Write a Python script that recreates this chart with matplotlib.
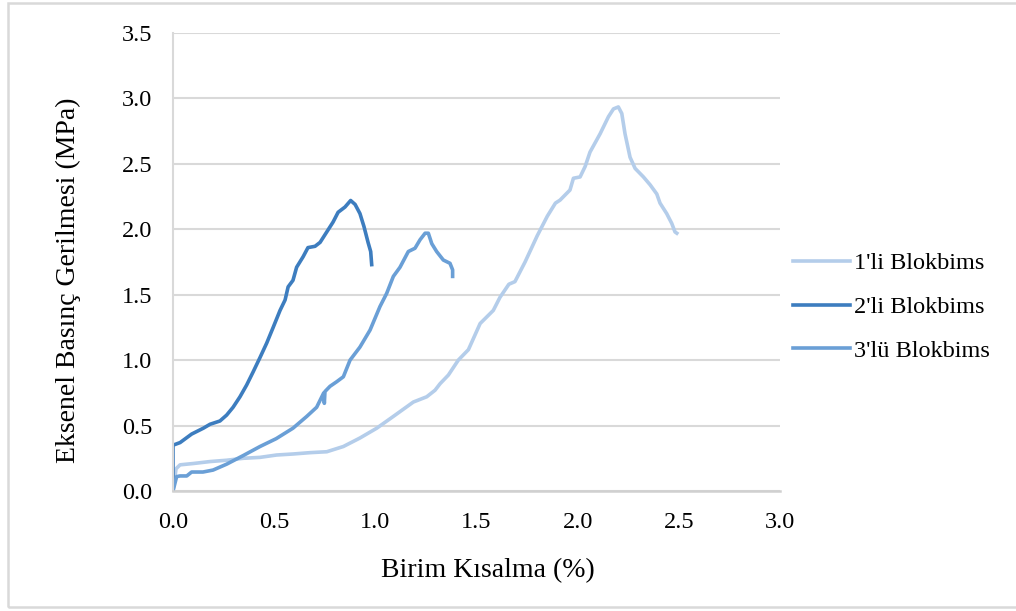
import matplotlib.pyplot as plt
from matplotlib.patches import Rectangle

plt.rcParams['font.family'] = ['Liberation Serif', 'DejaVu Serif']

# 1'li Blokbims
x1 = [0.0, 0.015, 0.035, 0.1, 0.183, 0.265, 0.348, 0.43, 0.512, 0.595, 0.677, 0.76,
      0.842, 0.924, 1.007, 1.089, 1.188, 1.254, 1.295, 1.32, 1.361, 1.41, 1.46, 1.518,
      1.583, 1.616, 1.66, 1.69, 1.74, 1.80, 1.85, 1.89, 1.913, 1.962, 1.979, 2.012,
      2.037, 2.061, 2.111, 2.152, 2.177, 2.201, 2.218, 2.234, 2.259, 2.284, 2.325,
      2.358, 2.391, 2.407, 2.44, 2.465, 2.481, 2.49]
y1 = [0.0, 0.17, 0.2, 0.21, 0.225, 0.235, 0.25, 0.257, 0.275, 0.283, 0.293, 0.30,
      0.34, 0.405, 0.48, 0.57, 0.68, 0.72, 0.77, 0.82, 0.886, 1.0, 1.08, 1.28,
      1.38, 1.48, 1.58, 1.60, 1.75, 1.95, 2.1, 2.2, 2.223, 2.30, 2.39, 2.40,
      2.48, 2.59, 2.73, 2.86, 2.92, 2.935, 2.885, 2.73, 2.55, 2.465, 2.40,
      2.34, 2.27, 2.20, 2.12, 2.045, 1.98, 1.97]

# 2'li Blokbims
x2 = [0.0, 0.0, 0.035, 0.092, 0.15, 0.183, 0.232, 0.265, 0.297, 0.331, 0.364, 0.396,
      0.43, 0.463, 0.495, 0.529, 0.554, 0.569, 0.593, 0.611, 0.643, 0.667, 0.702,
      0.727, 0.76, 0.791, 0.816, 0.85, 0.878, 0.9, 0.924, 0.944, 0.964, 0.977, 0.982]
y2 = [0.0, 0.35, 0.37, 0.435, 0.48, 0.51, 0.535, 0.58, 0.64, 0.72, 0.81, 0.91,
      1.02, 1.13, 1.25, 1.38, 1.46, 1.56, 1.61, 1.71, 1.79, 1.86, 1.87,
      1.90, 1.98, 2.055, 2.13, 2.17, 2.22, 2.19, 2.12, 2.02, 1.90, 1.83, 1.73]

# 3'lü Blokbims
x3 = [0.0, 0.018, 0.035, 0.068, 0.092, 0.148, 0.198, 0.265, 0.346, 0.43, 0.51, 0.593,
      0.661, 0.71, 0.745, 0.748, 0.751, 0.776, 0.809, 0.842, 0.875, 0.924, 0.974,
      1.023, 1.056, 1.089, 1.122, 1.163, 1.196, 1.221, 1.246, 1.262, 1.279, 1.303,
      1.336, 1.369, 1.382, 1.382]
y3 = [0.0, 0.11, 0.115, 0.115, 0.145, 0.145, 0.16, 0.205, 0.27, 0.34, 0.40, 0.48,
      0.57, 0.64, 0.75, 0.67, 0.76, 0.80, 0.835, 0.873, 1.0, 1.10, 1.23,
      1.41, 1.51, 1.64, 1.71, 1.83, 1.855, 1.92, 1.97, 1.97, 1.89, 1.83,
      1.765, 1.74, 1.69, 1.64]

labels = ["1'li Blokbims", "2'li Blokbims", "3'lü Blokbims"]
colors = ['#b4cdea', '#3d7dbf', '#6a9fd6']

fig = plt.figure(figsize=(10.16, 6.11), dpi=100)
ax = fig.add_axes([173 / 1016, 120 / 611, 607 / 1016, 458 / 611])

for xs, ys, lab, c in zip([x1, x2, x3], [y1, y2, y3], labels, colors):
    ax.plot(xs, ys, color=c, lw=2.6, label=lab, solid_joinstyle='round')

ax.set_xlim(0, 3.0)
ax.set_ylim(0, 3.5)
ax.set_xticks([0, 0.5, 1.0, 1.5, 2.0, 2.5, 3.0])
ax.set_yticks([0, 0.5, 1.0, 1.5, 2.0, 2.5, 3.0, 3.5])
ax.xaxis.set_major_formatter(lambda v, p: f'{v:.1f}')
ax.yaxis.set_major_formatter(lambda v, p: f'{v:.1f}')
ax.tick_params(length=0, labelsize=17.5)
ax.tick_params(axis='y', pad=15)
ax.tick_params(axis='x', pad=15)

ax.grid(axis='y', color='#d9d9d9', lw=1.5)
ax.set_axisbelow(True)
for s in ['top', 'right']:
    ax.spines[s].set_visible(False)
ax.spines['left'].set_color('#d9d9d9')
ax.spines['left'].set_linewidth(1.5)
ax.spines['bottom'].set_color('#d0d0d0')
ax.spines['bottom'].set_linewidth(1.8)

ax.set_xlabel('Birim Kısalma (%)', fontsize=20)
ax.set_ylabel('Eksenel Basınç Gerilmesi (MPa)', fontsize=20)
ax.xaxis.set_label_coords(0.519, -0.147)
ax.yaxis.set_label_coords(-0.152, 0.46)

fig.legend(loc='center left', bbox_to_anchor=(793 / 1016, (611 - 307) / 611),
           frameon=False, fontsize=17.5, handlelength=2.35, handletextpad=0.15,
           labelspacing=0.9, borderpad=0, borderaxespad=0)

# outer frame around the chart area
fig.patches.append(Rectangle((8 / 1016, 4 / 611), 1.1, 604 / 611,
                             transform=fig.transFigure, fill=False,
                             edgecolor='#d9d9d9', lw=1.8))

fig.savefig('out.png', dpi=100)
